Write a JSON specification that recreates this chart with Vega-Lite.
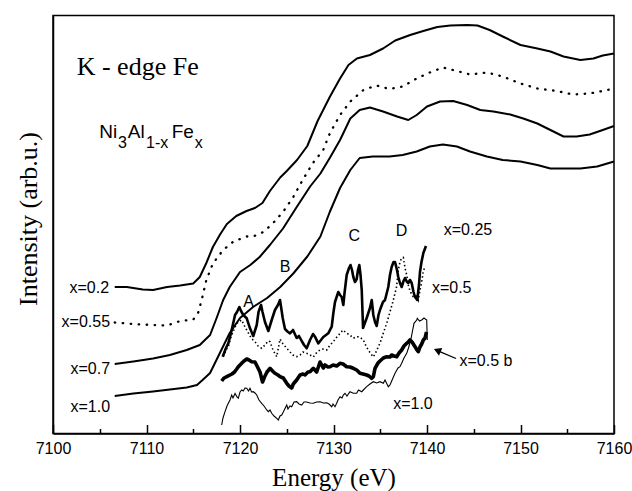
{
  "$schema": "https://vega.github.io/schema/vega-lite/v6.json",
  "width": 561,
  "height": 418,
  "autosize": {"type": "none"},
  "padding": {"left": 53, "top": 15.5, "right": 18, "bottom": 57.5},
  "background": "white",
  "config": {
    "view": {"stroke": "black", "strokeWidth": 1.5},
    "axis": {"grid": false, "domainColor": "black", "domainWidth": 1.5, "tickColor": "black", "labelColor": "black", "titleColor": "black", "titleFontWeight": 400},
    "style": {"guide-title": {"fontWeight": 400}}
  },
  "datasets": {
    "curves": [
      {"s":"x02","E":7106.6,"I":146.5},{"s":"x02","E":7107.9,"I":146.5},{"s":"x02","E":7109.6,"I":144},{"s":"x02","E":7110.7,"I":143.5},{"s":"x02","E":7112.2,"I":146.5},{"s":"x02","E":7113.6,"I":148},{"s":"x02","E":7115.0,"I":150},{"s":"x02","E":7115.7,"I":156.5},{"s":"x02","E":7116.4,"I":170.5},{"s":"x02","E":7117.1,"I":186.5},{"s":"x02","E":7117.9,"I":199.5},{"s":"x02","E":7118.6,"I":209.5},{"s":"x02","E":7119.6,"I":217.5},{"s":"x02","E":7120.7,"I":222.5},{"s":"x02","E":7121.6,"I":225.5},{"s":"x02","E":7122.4,"I":230.5},{"s":"x02","E":7123.2,"I":242.5},{"s":"x02","E":7124.3,"I":256},{"s":"x02","E":7125.0,"I":262.5},{"s":"x02","E":7126.1,"I":273.5},{"s":"x02","E":7127.2,"I":287.5},{"s":"x02","E":7128.3,"I":312.5},{"s":"x02","E":7129.6,"I":336.5},{"s":"x02","E":7130.7,"I":355},{"s":"x02","E":7131.6,"I":368.5},{"s":"x02","E":7132.5,"I":375},{"s":"x02","E":7133.9,"I":378.5},{"s":"x02","E":7135.3,"I":385},{"s":"x02","E":7136.6,"I":393},{"s":"x02","E":7138.2,"I":398.5},{"s":"x02","E":7139.6,"I":402.5},{"s":"x02","E":7141.1,"I":406.5},{"s":"x02","E":7142.5,"I":408},{"s":"x02","E":7144.3,"I":408.5},{"s":"x02","E":7145.4,"I":408},{"s":"x02","E":7146.7,"I":403.5},{"s":"x02","E":7148.1,"I":397},{"s":"x02","E":7150.0,"I":388.5},{"s":"x02","E":7151.8,"I":385},{"s":"x02","E":7153.2,"I":382},{"s":"x02","E":7154.6,"I":377},{"s":"x02","E":7156.4,"I":373.5},{"s":"x02","E":7157.8,"I":375},{"s":"x02","E":7158.8,"I":378},{"s":"x02","E":7160.0,"I":380},

      {"s":"x055","E":7106.6,"I":111},{"s":"x055","E":7107.9,"I":110},{"s":"x055","E":7109.3,"I":109},{"s":"x055","E":7110.7,"I":108.5},{"s":"x055","E":7112.2,"I":108},{"s":"x055","E":7113.6,"I":112.5},{"s":"x055","E":7115.0,"I":114},{"s":"x055","E":7115.5,"I":120},{"s":"x055","E":7115.9,"I":133.5},{"s":"x055","E":7116.4,"I":153.5},{"s":"x055","E":7117.1,"I":170},{"s":"x055","E":7118.2,"I":183.5},{"s":"x055","E":7119.3,"I":192},{"s":"x055","E":7120.7,"I":197},{"s":"x055","E":7121.4,"I":197},{"s":"x055","E":7122.5,"I":201.5},{"s":"x055","E":7123.5,"I":210},{"s":"x055","E":7124.6,"I":221.5},{"s":"x055","E":7125.7,"I":236.5},{"s":"x055","E":7126.7,"I":253.5},{"s":"x055","E":7127.8,"I":270.5},{"s":"x055","E":7128.9,"I":283.5},{"s":"x055","E":7129.6,"I":300},{"s":"x055","E":7130.7,"I":318.5},{"s":"x055","E":7131.8,"I":332},{"s":"x055","E":7133.2,"I":343.5},{"s":"x055","E":7134.6,"I":348},{"s":"x055","E":7136.0,"I":344.5},{"s":"x055","E":7137.4,"I":347},{"s":"x055","E":7138.9,"I":355},{"s":"x055","E":7140.3,"I":361},{"s":"x055","E":7141.7,"I":366},{"s":"x055","E":7143.2,"I":362.5},{"s":"x055","E":7144.6,"I":359},{"s":"x055","E":7146.4,"I":361},{"s":"x055","E":7148.1,"I":357},{"s":"x055","E":7150.0,"I":350},{"s":"x055","E":7151.8,"I":345},{"s":"x055","E":7153.9,"I":342.5},{"s":"x055","E":7155.6,"I":339},{"s":"x055","E":7157.4,"I":340},{"s":"x055","E":7159.8,"I":344.5},

      {"s":"x07","E":7106.6,"I":69.5},{"s":"x07","E":7108.6,"I":72},{"s":"x07","E":7110.7,"I":75},{"s":"x07","E":7112.5,"I":78.5},{"s":"x07","E":7114.3,"I":83.5},{"s":"x07","E":7115.7,"I":88.5},{"s":"x07","E":7116.8,"I":98.5},{"s":"x07","E":7117.5,"I":115.5},{"s":"x07","E":7118.2,"I":133.5},{"s":"x07","E":7118.9,"I":146.5},{"s":"x07","E":7120.0,"I":161.5},{"s":"x07","E":7121.1,"I":168.5},{"s":"x07","E":7122.1,"I":176.5},{"s":"x07","E":7123.2,"I":188.5},{"s":"x07","E":7124.6,"I":205},{"s":"x07","E":7126.1,"I":227},{"s":"x07","E":7127.5,"I":247},{"s":"x07","E":7128.6,"I":260},{"s":"x07","E":7129.6,"I":275.5},{"s":"x07","E":7130.7,"I":293.5},{"s":"x07","E":7131.8,"I":315},{"s":"x07","E":7132.8,"I":323.5},{"s":"x07","E":7133.9,"I":326},{"s":"x07","E":7135.3,"I":322},{"s":"x07","E":7136.8,"I":317},{"s":"x07","E":7138.0,"I":313.5},{"s":"x07","E":7138.9,"I":318.5},{"s":"x07","E":7140.0,"I":327},{"s":"x07","E":7141.4,"I":332},{"s":"x07","E":7142.8,"I":332.5},{"s":"x07","E":7144.3,"I":328.5},{"s":"x07","E":7145.7,"I":323.5},{"s":"x07","E":7147.1,"I":322},{"s":"x07","E":7148.9,"I":319},{"s":"x07","E":7150.3,"I":315},{"s":"x07","E":7151.8,"I":310},{"s":"x07","E":7153.2,"I":303.5},{"s":"x07","E":7154.6,"I":297},{"s":"x07","E":7156.0,"I":297},{"s":"x07","E":7157.4,"I":299},{"s":"x07","E":7158.8,"I":303.5},{"s":"x07","E":7160.0,"I":307.5},

      {"s":"x10","E":7106.6,"I":37.5},{"s":"x10","E":7108.6,"I":40},{"s":"x10","E":7110.7,"I":42},{"s":"x10","E":7112.5,"I":44},{"s":"x10","E":7114.3,"I":46},{"s":"x10","E":7115.4,"I":48.5},{"s":"x10","E":7116.0,"I":53.5},{"s":"x10","E":7116.8,"I":60.5},{"s":"x10","E":7117.9,"I":81.5},{"s":"x10","E":7118.9,"I":100.5},{"s":"x10","E":7120.0,"I":115.5},{"s":"x10","E":7121.4,"I":126.5},{"s":"x10","E":7122.9,"I":135.5},{"s":"x10","E":7124.3,"I":146.5},{"s":"x10","E":7125.7,"I":160},{"s":"x10","E":7127.2,"I":177},{"s":"x10","E":7128.6,"I":197},{"s":"x10","E":7129.6,"I":221.5},{"s":"x10","E":7130.7,"I":245.5},{"s":"x10","E":7131.8,"I":263.5},{"s":"x10","E":7132.8,"I":275.5},{"s":"x10","E":7134.2,"I":277},{"s":"x10","E":7136.0,"I":277},{"s":"x10","E":7137.4,"I":278.5},{"s":"x10","E":7138.9,"I":282},{"s":"x10","E":7140.3,"I":287},{"s":"x10","E":7141.7,"I":289},{"s":"x10","E":7143.2,"I":287},{"s":"x10","E":7144.6,"I":282},{"s":"x10","E":7146.4,"I":277},{"s":"x10","E":7148.1,"I":273.5},{"s":"x10","E":7150.0,"I":272},{"s":"x10","E":7151.8,"I":268.5},{"s":"x10","E":7153.2,"I":265},{"s":"x10","E":7154.6,"I":265},{"s":"x10","E":7156.4,"I":265},{"s":"x10","E":7158.2,"I":267},{"s":"x10","E":7160.0,"I":272},

      {"s":"n025","E":7118.15,"I":76.8},{"s":"n025","E":7118.50,"I":85.5},{"s":"n025","E":7118.75,"I":90.2},{"s":"n025","E":7119.04,"I":100.5},{"s":"n025","E":7119.47,"I":118.5},{"s":"n025","E":7119.68,"I":121.5},{"s":"n025","E":7119.93,"I":126.5},{"s":"n025","E":7120.11,"I":122.5},{"s":"n025","E":7120.35,"I":118.5},{"s":"n025","E":7120.72,"I":115.2},{"s":"n025","E":7121.07,"I":105.2},{"s":"n025","E":7121.42,"I":97.5},{"s":"n025","E":7121.79,"I":108.5},{"s":"n025","E":7121.98,"I":121.5},{"s":"n025","E":7122.25,"I":128.5},{"s":"n025","E":7122.41,"I":121.5},{"s":"n025","E":7122.67,"I":111.5},{"s":"n025","E":7123.03,"I":102.5},{"s":"n025","E":7123.39,"I":113.5},{"s":"n025","E":7123.74,"I":123.5},{"s":"n025","E":7124.06,"I":128.5},{"s":"n025","E":7124.28,"I":133.5},{"s":"n025","E":7124.57,"I":115.5},{"s":"n025","E":7124.81,"I":104.5},{"s":"n025","E":7125.13,"I":101.5},{"s":"n025","E":7125.35,"I":100.2},{"s":"n025","E":7125.67,"I":103.5},{"s":"n025","E":7126.06,"I":95.5},{"s":"n025","E":7126.31,"I":97.5},{"s":"n025","E":7126.60,"I":92.5},{"s":"n025","E":7126.85,"I":88.5},{"s":"n025","E":7127.13,"I":85.2},{"s":"n025","E":7127.49,"I":93.5},{"s":"n025","E":7127.81,"I":99.5},{"s":"n025","E":7128.02,"I":96.8},{"s":"n025","E":7128.37,"I":90.2},{"s":"n025","E":7128.66,"I":93.5},{"s":"n025","E":7128.91,"I":96.5},{"s":"n025","E":7129.20,"I":98.5},{"s":"n025","E":7129.44,"I":100.2},{"s":"n025","E":7129.81,"I":106.8},{"s":"n025","E":7130.00,"I":121.5},{"s":"n025","E":7130.16,"I":131.5},{"s":"n025","E":7130.51,"I":141.5},{"s":"n025","E":7130.70,"I":138.5},{"s":"n025","E":7130.88,"I":136.5},{"s":"n025","E":7131.05,"I":128.5},{"s":"n025","E":7131.18,"I":140.5},{"s":"n025","E":7131.41,"I":158.5},{"s":"n025","E":7131.66,"I":165.5},{"s":"n025","E":7131.82,"I":168.5},{"s":"n025","E":7131.98,"I":163.5},{"s":"n025","E":7132.12,"I":156.5},{"s":"n025","E":7132.30,"I":151.5},{"s":"n025","E":7132.48,"I":154.5},{"s":"n025","E":7132.62,"I":163.5},{"s":"n025","E":7132.76,"I":168.5},{"s":"n025","E":7132.89,"I":158.5},{"s":"n025","E":7133.02,"I":143.5},{"s":"n025","E":7133.16,"I":105.5},{"s":"n025","E":7133.55,"I":115.5},{"s":"n025","E":7133.90,"I":125.5},{"s":"n025","E":7134.09,"I":133.5},{"s":"n025","E":7134.26,"I":118.5},{"s":"n025","E":7134.44,"I":111.5},{"s":"n025","E":7134.62,"I":107.5},{"s":"n025","E":7134.81,"I":118.5},{"s":"n025","E":7134.97,"I":123.5},{"s":"n025","E":7135.29,"I":131.5},{"s":"n025","E":7135.51,"I":133.5},{"s":"n025","E":7135.86,"I":146.5},{"s":"n025","E":7136.04,"I":158.5},{"s":"n025","E":7136.22,"I":166.5},{"s":"n025","E":7136.42,"I":171.5},{"s":"n025","E":7136.58,"I":171.5},{"s":"n025","E":7136.79,"I":163.5},{"s":"n025","E":7136.93,"I":156.5},{"s":"n025","E":7137.11,"I":150.5},{"s":"n025","E":7137.29,"I":146.5},{"s":"n025","E":7137.49,"I":152.5},{"s":"n025","E":7137.65,"I":155.5},{"s":"n025","E":7137.86,"I":151.5},{"s":"n025","E":7138.00,"I":150.5},{"s":"n025","E":7138.18,"I":153.5},{"s":"n025","E":7138.36,"I":150.5},{"s":"n025","E":7138.56,"I":141.5},{"s":"n025","E":7138.72,"I":136.5},{"s":"n025","E":7138.96,"I":133.5},{"s":"n025","E":7139.14,"I":148.5},{"s":"n025","E":7139.25,"I":161.5},{"s":"n025","E":7139.41,"I":171.5},{"s":"n025","E":7139.61,"I":180.5},{"s":"n025","E":7139.89,"I":187.5},

      {"s":"n05","E":7118.21,"I":76.8},{"s":"n05","E":7118.50,"I":83.5},{"s":"n05","E":7118.75,"I":86.8},{"s":"n05","E":7119.04,"I":96.5},{"s":"n05","E":7119.47,"I":106.5},{"s":"n05","E":7119.79,"I":111.5},{"s":"n05","E":7120.18,"I":113.5},{"s":"n05","E":7120.43,"I":108.5},{"s":"n05","E":7120.72,"I":103.5},{"s":"n05","E":7121.07,"I":97.5},{"s":"n05","E":7121.39,"I":93.5},{"s":"n05","E":7121.60,"I":91.8},{"s":"n05","E":7121.93,"I":87.5},{"s":"n05","E":7122.32,"I":85.2},{"s":"n05","E":7122.67,"I":88.5},{"s":"n05","E":7123.00,"I":92.5},{"s":"n05","E":7123.21,"I":91.8},{"s":"n05","E":7123.53,"I":83.5},{"s":"n05","E":7123.93,"I":76.8},{"s":"n05","E":7124.28,"I":94.5},{"s":"n05","E":7124.60,"I":89.5},{"s":"n05","E":7125.00,"I":85.2},{"s":"n05","E":7125.35,"I":81.5},{"s":"n05","E":7125.67,"I":78.5},{"s":"n05","E":7126.06,"I":76.8},{"s":"n05","E":7126.42,"I":78.5},{"s":"n05","E":7126.74,"I":81.5},{"s":"n05","E":7127.13,"I":80.2},{"s":"n05","E":7127.49,"I":78.5},{"s":"n05","E":7127.84,"I":76.5},{"s":"n05","E":7128.24,"I":81.5},{"s":"n05","E":7128.56,"I":83.5},{"s":"n05","E":7128.88,"I":84.5},{"s":"n05","E":7129.27,"I":83.5},{"s":"n05","E":7129.63,"I":88.5},{"s":"n05","E":7129.95,"I":91.5},{"s":"n05","E":7130.27,"I":95.5},{"s":"n05","E":7130.70,"I":100.2},{"s":"n05","E":7131.02,"I":103.5},{"s":"n05","E":7131.41,"I":100.2},{"s":"n05","E":7131.76,"I":98.5},{"s":"n05","E":7132.12,"I":95.2},{"s":"n05","E":7132.41,"I":96.5},{"s":"n05","E":7132.65,"I":96.8},{"s":"n05","E":7132.83,"I":96.5},{"s":"n05","E":7133.19,"I":93.5},{"s":"n05","E":7133.48,"I":87.5},{"s":"n05","E":7133.72,"I":83.5},{"s":"n05","E":7134.01,"I":79.5},{"s":"n05","E":7134.26,"I":76.5},{"s":"n05","E":7134.55,"I":81.5},{"s":"n05","E":7134.79,"I":86.8},{"s":"n05","E":7134.97,"I":90.2},{"s":"n05","E":7135.33,"I":100.5},{"s":"n05","E":7135.69,"I":110.2},{"s":"n05","E":7136.04,"I":121.5},{"s":"n05","E":7136.40,"I":133.5},{"s":"n05","E":7136.74,"I":146.5},{"s":"n05","E":7136.93,"I":163.5},{"s":"n05","E":7137.11,"I":171.5},{"s":"n05","E":7137.29,"I":175.5},{"s":"n05","E":7137.47,"I":176},{"s":"n05","E":7137.65,"I":165.5},{"s":"n05","E":7137.83,"I":158.5},{"s":"n05","E":7138.00,"I":148.5},{"s":"n05","E":7138.18,"I":142.5},{"s":"n05","E":7138.54,"I":136.5},{"s":"n05","E":7138.90,"I":137.5},{"s":"n05","E":7139.07,"I":133.5},{"s":"n05","E":7139.25,"I":143.5},{"s":"n05","E":7139.43,"I":151.5},{"s":"n05","E":7139.61,"I":162.5},{"s":"n05","E":7139.73,"I":165.5},

      {"s":"n05b","E":7118.04,"I":52.5},{"s":"n05b","E":7118.29,"I":55.5},{"s":"n05b","E":7118.58,"I":56.8},{"s":"n05b","E":7118.93,"I":58.5},{"s":"n05b","E":7119.14,"I":59.5},{"s":"n05b","E":7119.41,"I":61.5},{"s":"n05b","E":7119.65,"I":64.5},{"s":"n05b","E":7119.82,"I":66.8},{"s":"n05b","E":7120.18,"I":70.2},{"s":"n05b","E":7120.43,"I":72.5},{"s":"n05b","E":7120.72,"I":74.5},{"s":"n05b","E":7120.96,"I":73.5},{"s":"n05b","E":7121.25,"I":71.8},{"s":"n05b","E":7121.60,"I":71.5},{"s":"n05b","E":7121.82,"I":67.5},{"s":"n05b","E":7122.14,"I":61.5},{"s":"n05b","E":7122.41,"I":51.5},{"s":"n05b","E":7122.62,"I":56.5},{"s":"n05b","E":7122.89,"I":61.5},{"s":"n05b","E":7123.21,"I":65.2},{"s":"n05b","E":7123.56,"I":61.8},{"s":"n05b","E":7123.74,"I":60.2},{"s":"n05b","E":7124.06,"I":58.5},{"s":"n05b","E":7124.28,"I":56.8},{"s":"n05b","E":7124.63,"I":55.5},{"s":"n05b","E":7125.00,"I":50.2},{"s":"n05b","E":7125.24,"I":47.5},{"s":"n05b","E":7125.53,"I":45.5},{"s":"n05b","E":7125.70,"I":49.5},{"s":"n05b","E":7126.06,"I":53.5},{"s":"n05b","E":7126.42,"I":58.5},{"s":"n05b","E":7126.74,"I":59.5},{"s":"n05b","E":7126.95,"I":58.5},{"s":"n05b","E":7127.27,"I":61.5},{"s":"n05b","E":7127.49,"I":61.8},{"s":"n05b","E":7127.84,"I":65.2},{"s":"n05b","E":7128.20,"I":61.5},{"s":"n05b","E":7128.56,"I":71.5},{"s":"n05b","E":7128.91,"I":65.5},{"s":"n05b","E":7129.09,"I":68.5},{"s":"n05b","E":7129.41,"I":66.5},{"s":"n05b","E":7129.63,"I":66.8},{"s":"n05b","E":7129.95,"I":68.5},{"s":"n05b","E":7130.34,"I":67.5},{"s":"n05b","E":7130.70,"I":70.2},{"s":"n05b","E":7131.02,"I":69.5},{"s":"n05b","E":7131.41,"I":66.8},{"s":"n05b","E":7131.76,"I":66.5},{"s":"n05b","E":7132.12,"I":65.2},{"s":"n05b","E":7132.48,"I":63.5},{"s":"n05b","E":7132.83,"I":60.2},{"s":"n05b","E":7133.16,"I":59.5},{"s":"n05b","E":7133.55,"I":58.5},{"s":"n05b","E":7133.80,"I":57.5},{"s":"n05b","E":7134.09,"I":55.2},{"s":"n05b","E":7134.26,"I":56.8},{"s":"n05b","E":7134.44,"I":65.2},{"s":"n05b","E":7134.76,"I":70.5},{"s":"n05b","E":7134.97,"I":72.5},{"s":"n05b","E":7135.33,"I":75.5},{"s":"n05b","E":7135.69,"I":76.8},{"s":"n05b","E":7136.04,"I":76.5},{"s":"n05b","E":7136.22,"I":78.5},{"s":"n05b","E":7136.47,"I":77.5},{"s":"n05b","E":7136.76,"I":76.8},{"s":"n05b","E":7137.01,"I":80.5},{"s":"n05b","E":7137.29,"I":83.5},{"s":"n05b","E":7137.54,"I":87.5},{"s":"n05b","E":7137.83,"I":90.2},{"s":"n05b","E":7138.00,"I":91.5},{"s":"n05b","E":7138.18,"I":93.5},{"s":"n05b","E":7138.40,"I":91.5},{"s":"n05b","E":7138.72,"I":86.8},{"s":"n05b","E":7138.93,"I":83.5},{"s":"n05b","E":7139.07,"I":81.8},{"s":"n05b","E":7139.25,"I":86.5},{"s":"n05b","E":7139.43,"I":89.5},{"s":"n05b","E":7139.61,"I":93.5},{"s":"n05b","E":7139.79,"I":95.5},{"s":"n05b","E":7139.95,"I":101.5},

      {"s":"n10","E":7118.04,"I":8.5},{"s":"n10","E":7118.18,"I":15.5},{"s":"n10","E":7118.40,"I":21.8},{"s":"n10","E":7118.61,"I":27.5},{"s":"n10","E":7118.75,"I":30.2},{"s":"n10","E":7118.93,"I":33.5},{"s":"n10","E":7119.11,"I":38.5},{"s":"n10","E":7119.25,"I":35.5},{"s":"n10","E":7119.47,"I":40},{"s":"n10","E":7119.68,"I":36.5},{"s":"n10","E":7119.82,"I":35.2},{"s":"n10","E":7120.00,"I":41.5},{"s":"n10","E":7120.18,"I":43.5},{"s":"n10","E":7120.35,"I":42.5},{"s":"n10","E":7120.53,"I":45.5},{"s":"n10","E":7120.72,"I":45.2},{"s":"n10","E":7120.91,"I":42.5},{"s":"n10","E":7121.07,"I":45.2},{"s":"n10","E":7121.23,"I":41.5},{"s":"n10","E":7121.42,"I":41.8},{"s":"n10","E":7121.60,"I":40.5},{"s":"n10","E":7121.79,"I":38.5},{"s":"n10","E":7122.03,"I":33.5},{"s":"n10","E":7122.32,"I":30.2},{"s":"n10","E":7122.57,"I":27.5},{"s":"n10","E":7122.86,"I":23.5},{"s":"n10","E":7123.03,"I":21.8},{"s":"n10","E":7123.21,"I":23.5},{"s":"n10","E":7123.39,"I":20.2},{"s":"n10","E":7123.64,"I":17.5},{"s":"n10","E":7123.93,"I":15.2},{"s":"n10","E":7124.10,"I":13.5},{"s":"n10","E":7124.28,"I":17.5},{"s":"n10","E":7124.46,"I":18.5},{"s":"n10","E":7124.63,"I":21.5},{"s":"n10","E":7125.00,"I":28.5},{"s":"n10","E":7125.13,"I":24.5},{"s":"n10","E":7125.35,"I":27.5},{"s":"n10","E":7125.53,"I":26.8},{"s":"n10","E":7125.78,"I":31.5},{"s":"n10","E":7126.06,"I":31.8},{"s":"n10","E":7126.31,"I":29.5},{"s":"n10","E":7126.60,"I":28.5},{"s":"n10","E":7126.85,"I":31.5},{"s":"n10","E":7127.13,"I":31.5},{"s":"n10","E":7127.49,"I":30.5},{"s":"n10","E":7127.84,"I":30.2},{"s":"n10","E":7128.20,"I":31.5},{"s":"n10","E":7128.56,"I":31.8},{"s":"n10","E":7128.91,"I":30.5},{"s":"n10","E":7129.27,"I":30.8},{"s":"n10","E":7129.52,"I":29.5},{"s":"n10","E":7129.81,"I":26.8},{"s":"n10","E":7129.95,"I":29.5},{"s":"n10","E":7130.16,"I":26.8},{"s":"n10","E":7130.34,"I":30.2},{"s":"n10","E":7130.48,"I":33.5},{"s":"n10","E":7130.70,"I":36.8},{"s":"n10","E":7130.91,"I":35.5},{"s":"n10","E":7131.05,"I":38.5},{"s":"n10","E":7131.23,"I":40.2},{"s":"n10","E":7131.44,"I":37.5},{"s":"n10","E":7131.76,"I":41.8},{"s":"n10","E":7132.12,"I":40.2},{"s":"n10","E":7132.48,"I":40.2},{"s":"n10","E":7132.67,"I":43.5},{"s":"n10","E":7133.02,"I":41.8},{"s":"n10","E":7133.19,"I":43.5},{"s":"n10","E":7133.55,"I":46.8},{"s":"n10","E":7133.90,"I":49.5},{"s":"n10","E":7134.26,"I":51.8},{"s":"n10","E":7134.62,"I":50.5},{"s":"n10","E":7134.97,"I":51.8},{"s":"n10","E":7135.33,"I":50.2},{"s":"n10","E":7135.51,"I":53.5},{"s":"n10","E":7135.86,"I":46.8},{"s":"n10","E":7136.04,"I":48.5},{"s":"n10","E":7136.12,"I":50.2},{"s":"n10","E":7136.36,"I":55.5},{"s":"n10","E":7136.58,"I":60.2},{"s":"n10","E":7136.90,"I":65.5},{"s":"n10","E":7137.11,"I":66.8},{"s":"n10","E":7137.29,"I":70.2},{"s":"n10","E":7137.54,"I":75.5},{"s":"n10","E":7137.83,"I":80.2},{"s":"n10","E":7138.02,"I":85.5},{"s":"n10","E":7138.26,"I":93.5},{"s":"n10","E":7138.45,"I":102.5},{"s":"n10","E":7138.61,"I":110.2},{"s":"n10","E":7138.90,"I":113.5},{"s":"n10","E":7138.96,"I":115.2},{"s":"n10","E":7139.20,"I":112.5},{"s":"n10","E":7139.43,"I":113.5},{"s":"n10","E":7139.68,"I":115.5},{"s":"n10","E":7139.97,"I":113.5},{"s":"n10","E":7140.03,"I":93.5}
    ],
    "labels": [
      {"g":"left","E":7106.0,"I":145.5,"t":"x=0.2"},
      {"g":"left","E":7106.1,"I":112,"t":"x=0.55"},
      {"g":"left","E":7106.1,"I":64.5,"t":"x=0.7"},
      {"g":"left","E":7106.1,"I":26.5,"t":"x=1.0"},
      {"g":"mid","E":7120.91,"I":132,"t":"A"},
      {"g":"mid","E":7124.81,"I":166.5,"t":"B"},
      {"g":"mid","E":7132.22,"I":198,"t":"C"},
      {"g":"mid","E":7137.27,"I":202.5,"t":"D"},
      {"g":"mid","E":7144.38,"I":203.5,"t":"x=0.25"},
      {"g":"mid","E":7142.64,"I":145.5,"t":"x=0.5"},
      {"g":"mid","E":7146.31,"I":72.5,"t":"x=0.5 b"},
      {"g":"mid","E":7138.5,"I":29.5,"t":"x=1.0"},
      {"g":"kedge","E":7102.53,"I":358.5,"t":"K - edge Fe"},
      {"g":"main","E":7104.95,"I":295.5,"t":"Ni"},
      {"g":"sub","E":7106.95,"I":285.5,"t":"3"},
      {"g":"main","E":7108.0,"I":295.5,"t":"Al"},
      {"g":"sub","E":7109.95,"I":285.5,"t":"1-x"},
      {"g":"main","E":7112.7,"I":295.5,"t":"Fe"},
      {"g":"sub","E":7115.15,"I":285.5,"t":"x"}
    ],
    "arrow": [
      {"E":7143.1,"I":75,"E2":7141.3,"I2":82.2}
    ],
    "arrowhead": [
      {"E":7141.1,"I":83.1}
    ]
  },
  "encoding": {
    "x": {"field": "E", "type": "quantitative",
      "scale": {"domain": [7100, 7160], "nice": false, "zero": false},
      "axis": {
        "title": "Energy (eV)",
        "values": [7100,7105,7110,7115,7120,7125,7130,7135,7140,7145,7150,7155,7160],
        "labelExpr": "datum.value % 10 === 0 ? datum.label : ''",
        "format": "d",
        "tickSize": {"condition": {"test": "datum.value % 10 === 0", "value": -9}, "value": -5},
        "tickWidth": 1.5,
        "labelPadding": 16,
        "labelFont": "Liberation Sans", "labelFontSize": 16,
        "labelFlush": false,
        "titleFont": "Liberation Serif", "titleFontSize": 25, "titleFontWeight": 400,
        "titlePadding": 9
      }
    },
    "y": {"field": "I", "type": "quantitative",
      "scale": {"domain": [0, 418], "nice": false, "zero": false},
      "axis": {"title": "Intensity (arb.u.)", "ticks": false, "labels": false, "titleFont": "Liberation Serif", "titleFontSize": 26, "titleFontWeight": 400, "titlePadding": 12, "titleY": 203}
    }
  },
  "layer": [
    {"data": {"name": "curves"}, "transform": [{"filter": "datum.s === 'x02' || datum.s === 'x07' || datum.s === 'x10'"}],
     "mark": {"type": "line", "color": "black", "strokeWidth": 2, "strokeJoin": "round"},
     "encoding": {"detail": {"field": "s"}, "order": {"field": "E", "type": "quantitative"}}},
    {"data": {"name": "curves"}, "transform": [{"filter": "datum.s === 'x055'"}],
     "mark": {"type": "line", "color": "black", "strokeWidth": 2.3, "strokeCap": "round", "strokeDash": [0.5, 7.5]},
     "encoding": {"order": {"field": "E", "type": "quantitative"}}},
    {"data": {"name": "curves"}, "transform": [{"filter": "datum.s === 'n05'"}],
     "mark": {"type": "line", "color": "black", "strokeWidth": 1.6, "strokeDash": [1.5, 2.5]},
     "encoding": {"order": {"field": "E", "type": "quantitative"}}},
    {"data": {"name": "curves"}, "transform": [{"filter": "datum.s === 'n10'"}],
     "mark": {"type": "line", "color": "black", "strokeWidth": 1.1},
     "encoding": {"order": {"field": "E", "type": "quantitative"}}},
    {"data": {"name": "curves"}, "transform": [{"filter": "datum.s === 'n05b'"}],
     "mark": {"type": "line", "color": "black", "strokeWidth": 3.6, "strokeJoin": "round"},
     "encoding": {"order": {"field": "E", "type": "quantitative"}}},
    {"data": {"name": "curves"}, "transform": [{"filter": "datum.s === 'n025'"}],
     "mark": {"type": "line", "color": "black", "strokeWidth": 2.6, "strokeJoin": "round"},
     "encoding": {"order": {"field": "E", "type": "quantitative"}}},
    {"data": {"name": "arrow"},
     "mark": {"type": "rule", "color": "black", "strokeWidth": 1.3},
     "encoding": {"x2": {"field": "E2"}, "y2": {"field": "I2"}}},
    {"data": {"name": "arrowhead"},
     "mark": {"type": "point", "shape": "triangle-up", "filled": true, "color": "black", "size": 70, "angle": 293, "opacity": 1, "strokeWidth": 0},
     "encoding": {}},
    {"data": {"name": "labels"}, "transform": [{"filter": "datum.g === 'left'"}],
     "mark": {"type": "text", "align": "right", "baseline": "middle", "font": "Liberation Sans", "fontSize": 16, "color": "black"},
     "encoding": {"text": {"field": "t"}}},
    {"data": {"name": "labels"}, "transform": [{"filter": "datum.g === 'mid'"}],
     "mark": {"type": "text", "align": "center", "baseline": "middle", "font": "Liberation Sans", "fontSize": 16, "color": "black"},
     "encoding": {"text": {"field": "t"}}},
    {"data": {"name": "labels"}, "transform": [{"filter": "datum.g === 'kedge'"}],
     "mark": {"type": "text", "align": "left", "baseline": "alphabetic", "font": "Liberation Serif", "fontSize": 26, "color": "black"},
     "encoding": {"text": {"field": "t"}}},
    {"data": {"name": "labels"}, "transform": [{"filter": "datum.g === 'main'"}],
     "mark": {"type": "text", "align": "left", "baseline": "alphabetic", "font": "Liberation Sans", "fontSize": 19, "color": "black"},
     "encoding": {"text": {"field": "t"}}},
    {"data": {"name": "labels"}, "transform": [{"filter": "datum.g === 'sub'"}],
     "mark": {"type": "text", "align": "left", "baseline": "alphabetic", "font": "Liberation Sans", "fontSize": 16, "color": "black"},
     "encoding": {"text": {"field": "t"}}}
  ]
}
